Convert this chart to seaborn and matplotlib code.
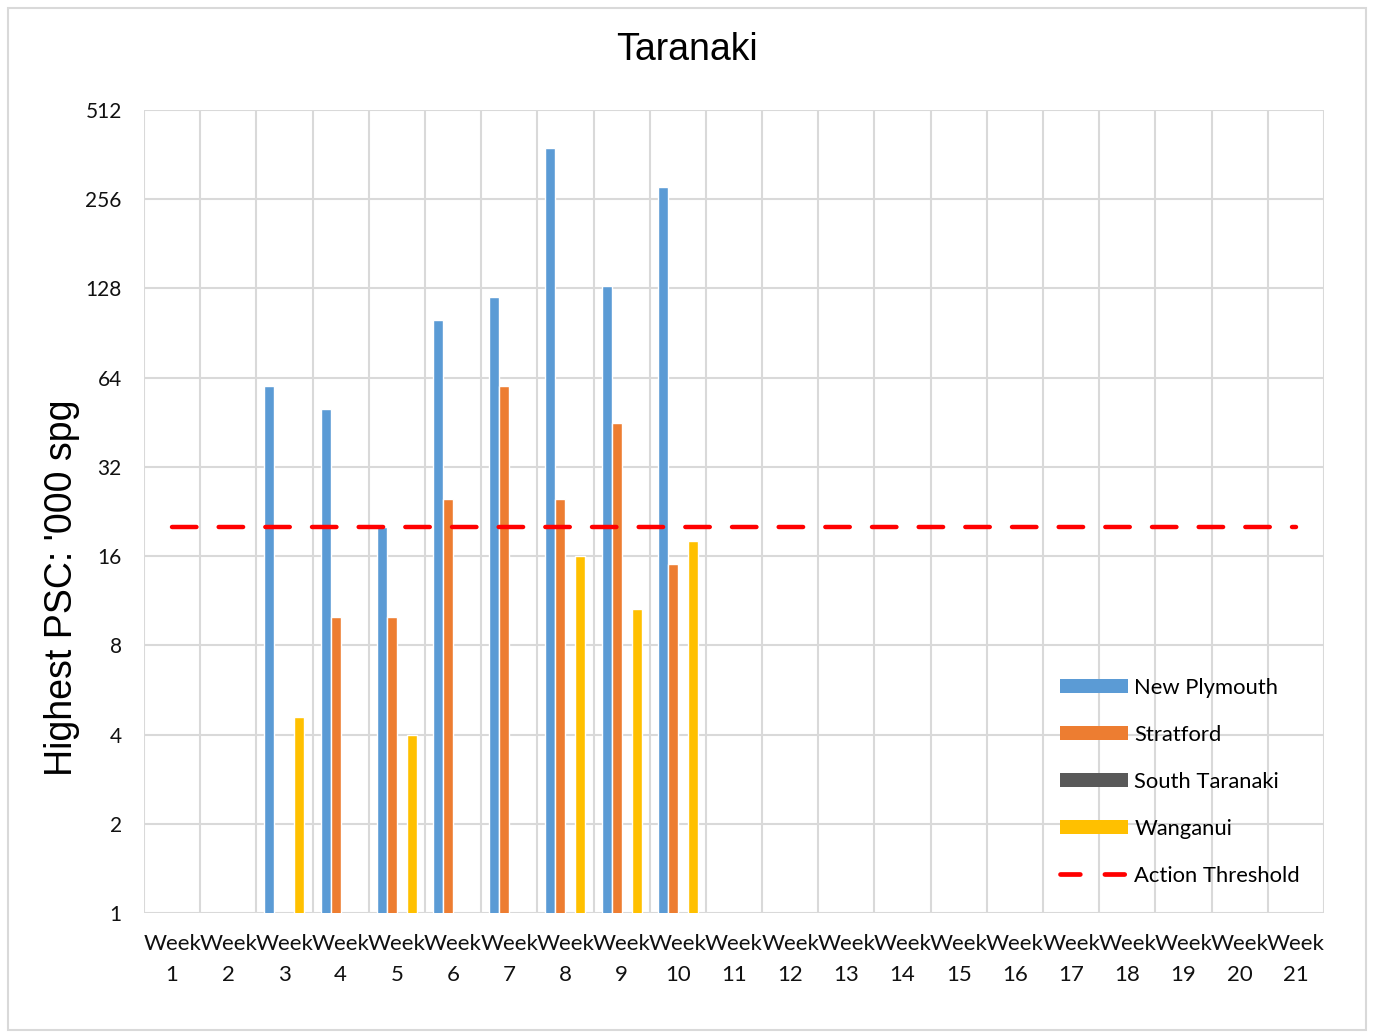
import numpy as np
import pandas as pd
import matplotlib
matplotlib.use('Agg')
import matplotlib.pyplot as plt
import seaborn as sns
from matplotlib.patches import Patch, Rectangle
from matplotlib.lines import Line2D
from matplotlib.ticker import FixedLocator, FixedFormatter

# Weekly highest PSC per district ('000 spg), NaN = no sample
weeks = [f"Week\n{i}" for i in range(1, 22)]
new_plymouth = [np.nan, np.nan, 60, 50, 20, 100, 120, 382, 130, 282] + [np.nan] * 11
stratford = [np.nan, np.nan, np.nan, 10, 10, 25, 60, 25, 45, 15] + [np.nan] * 11
south_taranaki = [np.nan] * 21
wanganui = [np.nan, np.nan, 4.6, np.nan, 4, np.nan, np.nan, 16, 10.6, 18] + [np.nan] * 11
threshold = [20] * 21

series = ['New Plymouth', 'Stratford', 'South Taranaki', 'Wanganui']
colors = ['#5B9BD5', '#ED7D31', '#595959', '#FFC000']

df = pd.DataFrame({'Week': weeks, 'New Plymouth': new_plymouth, 'Stratford': stratford,
                   'South Taranaki': south_taranaki, 'Wanganui': wanganui})
long_df = df.melt(id_vars='Week', var_name='District', value_name='PSC')

sns.set_style('white')
plt.rcParams['font.family'] = ['Lato', 'DejaVu Sans']
plt.rcParams['text.color'] = 'black'

fig = plt.figure(figsize=(13.73, 10.32), dpi=100)
ax = fig.add_axes([144 / 1373, 1 - 913 / 1032, (1324 - 144) / 1373, (913 - 110) / 1032])
ax.set_yscale('log', base=2)

sns.barplot(data=long_df, x='Week', y='PSC', hue='District', hue_order=series,
            order=weeks, palette=colors, width=0.712, errorbar=None, ax=ax,
            legend=False, saturation=1)

# action threshold line across week centres
ax.plot(np.arange(len(weeks)), threshold, color='#FF0000', lw=3.2,
        dashes=(5.5, 5), dash_capstyle='round', zorder=4)

ax.set_ylim(1, 512)
ax.set_xlim(-0.5, len(weeks) - 0.5)
yt = [1, 2, 4, 8, 16, 32, 64, 128, 256, 512]
ax.yaxis.set_major_locator(FixedLocator(yt))
ax.yaxis.set_major_formatter(FixedFormatter([str(v) for v in yt]))
ax.yaxis.set_minor_locator(FixedLocator([]))
ax.set_xticks(np.arange(-0.5, len(weeks), 1), minor=True)

ax.grid(True, axis='y', which='major', color='#D9D9D9', lw=1.5, zorder=0)
ax.grid(True, axis='x', which='minor', color='#D9D9D9', lw=1.5, zorder=0)
ax.grid(False, axis='x', which='major')
ax.set_axisbelow(True)
for s in ax.spines.values():
    s.set_visible(False)

ax.tick_params(axis='y', length=0, pad=16, labelsize=15, labelcolor='#111111')
ax.tick_params(axis='x', which='both', length=0, pad=15, labelsize=16, labelcolor='#111111')
for lab in ax.get_xticklabels():
    lab.set_linespacing(1.7)

ax.set_xlabel('')
ax.set_ylabel("Highest PSC: '000 spg", fontsize=27, family='Liberation Sans', color='black')
ax.yaxis.set_label_coords(-64 / 1180, (913 - 588) / 803)
fig.text(687 / 1373, 1 - 50 / 1032, 'Taranaki', ha='center', va='center',
         fontsize=27, family='Liberation Sans', color='black')

handles = [Patch(facecolor=c, edgecolor='none') for c in colors]
handles.append(Line2D([0], [0], color='#FF0000', lw=3.4, dashes=(4.2, 5.2),
                      dash_capstyle='round'))
labels = series + ['Action Threshold']
fig.legend(handles, labels, loc='upper left', bbox_to_anchor=(1040 / 1373, 1 - 658 / 1032),
           frameon=False, fontsize=15.8, handlelength=3.1, handleheight=0.62,
           labelspacing=1.23, handletextpad=0.3)

# outer chart border
fig.patches.append(Rectangle((8 / 1373, 2 / 1032), 1358 / 1373, 1022 / 1032,
                             transform=fig.transFigure, fill=False,
                             edgecolor='#D9D9D9', lw=1.5))

fig.savefig('out.png', dpi=100)
